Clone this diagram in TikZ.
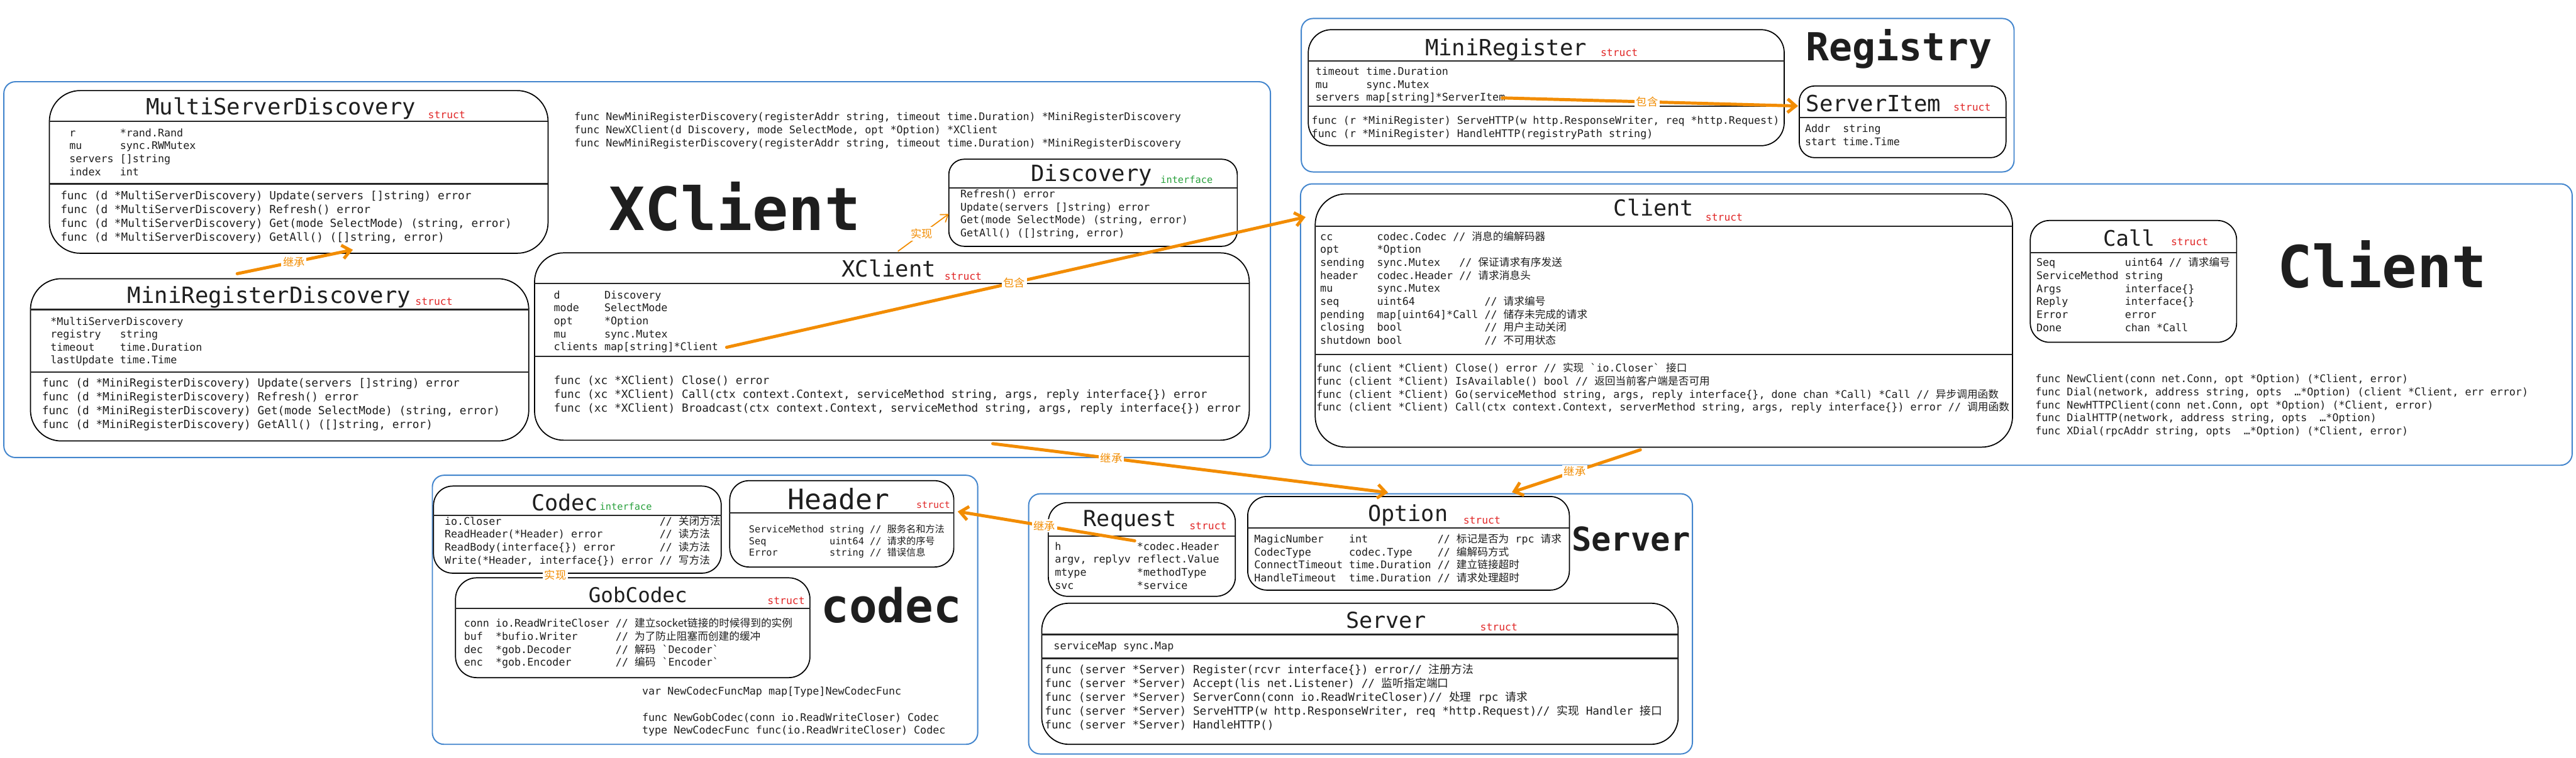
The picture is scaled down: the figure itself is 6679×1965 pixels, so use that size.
\documentclass[tikz,border=0pt]{standalone}
\usepackage{fontspec}
\setmonofont{DejaVu Sans Mono}
\newfontfamily\zhfont{Noto Sans CJK SC}
\usetikzlibrary{arrows.meta}
\definecolor{orng}{RGB}{242,140,0}
\definecolor{frameblue}{RGB}{66,133,205}
\definecolor{structred}{RGB}{225,40,40}
\definecolor{ifgreen}{RGB}{40,160,60}
\definecolor{ink}{RGB}{30,30,30}
\newcommand\zh[1]{{\zhfont#1}}
\newcommand\CL[1]{\hbox{#1}}
\frenchspacing
\tikzset{
  frame/.style={draw=frameblue, line width=0.9pt, rounded corners=0.3cm},
  umlbox/.style={draw=black, line width=0.8pt, inner sep=0pt, outer sep=0pt},
  sepline/.style={draw=black!85, line width=1pt},
  code/.style={inner sep=0pt, outer sep=0pt, anchor=base west, text=ink},
  codeA/.style={code, font={\ttfamily\fontsize{8.25pt}{10.2pt}\selectfont}},
  codeB/.style={code, font={\ttfamily\fontsize{7.74pt}{9.58pt}\selectfont}},
  codeC/.style={code, font={\ttfamily\fontsize{7.05pt}{8.68pt}\selectfont}},
  title/.style={code, font={\ttfamily\fontsize{#1}{#1}\selectfont}},
  tag/.style={code, text=structred, font={\ttfamily\fontsize{#1}{#1}\selectfont}},
  iface/.style={code, text=ifgreen, font={\ttfamily\fontsize{7.1pt}{8pt}\selectfont}},
  big/.style={code, font={\ttfamily\bfseries\fontsize{#1}{#1}\selectfont}},
  assoc/.style={draw=orng, line width=2.3pt, line cap=round, -{Straight Barb[length=6pt,width=10pt]}},
  thinarrow/.style={draw=orng, line width=0.8pt, -{Straight Barb[length=5pt,width=7pt]}},
  lbl/.style={fill=white, inner sep=1.2pt, text=orng, font={\zhfont\fontsize{8pt}{9pt}\selectfont}}
}
\newcommand\ubox[6]{\node[umlbox, rounded corners=#6, minimum width={(#4-#2)*0.01cm}, minimum height={(#5-#3)*0.01cm}] (#1) at ({(#2+#4)/2},{(#3+#5)/2}) {};}
\begin{document}
\begin{tikzpicture}[x=0.01cm,y=-0.01cm]
\fill[white] (0,0) rectangle (6679,1965);
\useasboundingbox (0,0) rectangle (6679,1965);

% ---------- frames ----------
\draw[frame] (10,212) rectangle (3294,1187);
\draw[frame] (3374,48) rectangle (5222,446);
\draw[frame] (3372,477) rectangle (6669,1207);
\draw[frame] (1121,1233) rectangle (2535,1931);
\draw[frame] (2667,1281) rectangle (4388,1956);

% ---------- XClient package ----------
\ubox{msd}{128}{235}{1421}{657}{0.8cm}
\node[title=16.5pt] (msdT) at (379,298) {MultiServerDiscovery};
\node[tag=7.6pt] (msdS) at (1110,307) {struct};
\draw[sepline] (128,315) -- (1421,315);
\node[codeB] (msdF) at (180,354) {\vtop{\CL{r~~~~~~~*rand.Rand}\CL{mu~~~~~~sync.RWMutex}\CL{servers~[]string}\CL{index~~~int}}};
\draw[sepline] (128,477) -- (1421,477);
\node[codeA] (msdM) at (157,517) {\vtop{\CL{func (d *MultiServerDiscovery) Update(servers []string) error}\CL{func (d *MultiServerDiscovery) Refresh() error}\CL{func (d *MultiServerDiscovery) Get(mode SelectMode) (string, error)}\CL{func (d *MultiServerDiscovery) GetAll() ([]string, error)}}};

\ubox{mrd}{79}{723}{1371}{1144}{0.8cm}
\node[title=16.5pt] (mrdT) at (331,786) {MiniRegisterDiscovery};
\node[tag=7.6pt] (mrdS) at (1077,792) {struct};
\draw[sepline] (79,803) -- (1371,803);
\node[codeB] (mrdF) at (131,843) {\vtop{\CL{*MultiServerDiscovery}\CL{registry~~~string}\CL{timeout~~~~time.Duration}\CL{lastUpdate time.Time}}};
\draw[sepline] (79,965) -- (1371,965);
\node[codeA] (mrdM) at (109,1003) {\vtop{\CL{func (d *MiniRegisterDiscovery) Update(servers []string) error}\CL{func (d *MiniRegisterDiscovery) Refresh() error}\CL{func (d *MiniRegisterDiscovery) Get(mode SelectMode) (string, error)}\CL{func (d *MiniRegisterDiscovery) GetAll() ([]string, error)}}};

\node[codeB] (ctors) at (1489,313) {\vtop{\CL{func NewMiniRegisterDiscovery(registerAddr string, timeout time.Duration) *MiniRegisterDiscovery}\CL{func NewXClient(d Discovery, mode SelectMode, opt *Option) *XClient}\CL{func NewMiniRegisterDiscovery(registerAddr string, timeout time.Duration) *MiniRegisterDiscovery}}};

\node[big=44pt] (xcBig) at (1579,598) {XClient};

\ubox{disc}{2460}{413}{3208}{639}{0.4cm}
\node[title=16.5pt] (discT) at (2673,470) {Discovery};
\node[iface] (discS) at (3009,476) {interface};
\draw[sepline] (2460,488) -- (3208,488);
\node[codeB] (discM) at (2490,513) {\vtop{\CL{Refresh() error}\CL{Update(servers []string) error}\CL{Get(mode SelectMode) (string, error)}\CL{GetAll() ([]string, error)}}};

\ubox{xc}{1386}{656}{3239}{1142}{0.75cm}
\node[title=16.5pt] (xcT) at (2182,719) {XClient};
\node[tag=7.6pt] (xcS) at (2449,727) {struct};
\draw[sepline] (1386,736) -- (3239,736);
\node[codeB] (xcF) at (1436,775) {\vtop{\CL{d~~~~~~~Discovery}\CL{mode~~~~SelectMode}\CL{opt~~~~~*Option}\CL{mu~~~~~~sync.Mutex}\CL{clients map[string]*Client}}};
\draw[sepline] (1386,924) -- (3239,924);
\node[codeA] (xcM) at (1436,997) {\vtop{\CL{func (xc *XClient) Close() error}\CL{func (xc *XClient) Call(ctx context.Context, serviceMethod string, args, reply interface\{\}) error}\CL{func (xc *XClient) Broadcast(ctx context.Context, serviceMethod string, args, reply interface\{\}) error}}};

% ---------- Registry ----------
\ubox{mreg}{3392}{77}{4626}{378}{0.6cm}
\node[title=16.5pt] (mregT) at (3695,145) {MiniRegister};
\node[tag=7.6pt] (mregS) at (4150,146) {struct};
\draw[sepline] (3392,158) -- (4626,158);
\node[codeB] (mregF) at (3411,195) {\vtop{\CL{timeout time.Duration}\CL{mu~~~~~~sync.Mutex}\CL{servers map[string]*ServerItem}}};
\draw[sepline] (3392,276) -- (4626,276);
\node[codeB] (mregM) at (3401,322) {\vtop{\CL{func (r *MiniRegister) ServeHTTP(w http.ResponseWriter, req *http.Request)}\CL{func (r *MiniRegister) HandleHTTP(registryPath string)}}};

\node[big=28.5pt] (regBig) at (4683,158) {Registry};

\ubox{sitem}{4665}{223}{5201}{409}{0.4cm}
\node[title=16.5pt] (sitemT) at (4683,290) {ServerItem};
\node[tag=7.6pt] (sitemS) at (5065,288) {struct};
\draw[sepline] (4665,305) -- (5201,305);
\node[codeB] (sitemF) at (4680,343) {\vtop{\CL{Addr~~string}\CL{start time.Time}}};

% ---------- Client ----------
\ubox{cli}{3410}{503}{5218}{1160}{0.8cm}
\node[title=16.3pt] (cliT) at (4184,560) {Client};
\node[tag=7.6pt] (cliS) at (4422,573) {struct};
\draw[sepline] (3410,587) -- (5218,587);
\node[codeB] (cliF) at (3423,623) {\vtop{%
\CL{cc~~~~~~~codec.Codec // \zh{消息的编解码器}}%
\CL{opt~~~~~~*Option}%
\CL{sending~~sync.Mutex~~~// \zh{保证请求有序发送}}%
\CL{header~~~codec.Header // \zh{请求消息头}}%
\CL{mu~~~~~~~sync.Mutex}%
\CL{seq~~~~~~uint64~~~~~~~~~~~// \zh{请求编号}}%
\CL{pending~~map[uint64]*Call // \zh{储存未完成的请求}}%
\CL{closing~~bool~~~~~~~~~~~~~// \zh{用户主动关闭}}%
\CL{shutdown bool~~~~~~~~~~~~~// \zh{不可用状态}}}};
\draw[sepline] (3410,920) -- (5218,920);
\node[codeB] (cliM) at (3413,965) {\vtop{%
\CL{func (client *Client) Close() error // \zh{实现} `io.Closer` \zh{接口}}%
\CL{func (client *Client) IsAvailable() bool // \zh{返回当前客户端是否可用}}%
\CL{func (client *Client) Go(serviceMethod string, args, reply interface\{\}, done chan *Call) *Call // \zh{异步调用函数}}%
\CL{func (client *Client) Call(ctx context.Context, serverMethod string, args, reply interface\{\}) error // \zh{调用函数}}}};

\ubox{call}{5264}{572}{5799}{888}{0.5cm}
\node[title=15.8pt] (callT) at (5453,639) {Call};
\node[tag=7.6pt] (callS) at (5629,637) {struct};
\draw[sepline] (5264,655) -- (5799,655);
\node[codeB] (callF) at (5280,691) {\vtop{%
\CL{Seq~~~~~~~~~~~uint64 // \zh{请求编号}}%
\CL{ServiceMethod string}%
\CL{Args~~~~~~~~~~interface\{\}}%
\CL{Reply~~~~~~~~~interface\{\}}%
\CL{Error~~~~~~~~~error}%
\CL{Done~~~~~~~~~~chan *Call}}};

\node[big=42.7pt] (cliBig) at (5905,746) {Client};

\node[codeB] (cliFn) at (5277,993) {\vtop{%
\CL{func NewClient(conn net.Conn, opt *Option) (*Client, error)}%
\CL{func Dial(network, address string, opts~~…*Option) (client *Client, err error)}%
\CL{func NewHTTPClient(conn net.Conn, opt *Option) (*Client, error)}%
\CL{func DialHTTP(network, address string, opts~~…*Option)}%
\CL{func XDial(rpcAddr string, opts~~…*Option) (*Client, error)}}};

% ---------- codec ----------
\ubox{codecI}{1124}{1261}{1870}{1487}{0.5cm}
\node[title=16.3pt] (codecT) at (1378,1325) {Codec};
\node[iface] (codecS) at (1555,1323) {interface};
\draw[sepline] (1124,1337) -- (1870,1337);
\node[codeB] (codecM) at (1153,1362) {\vtop{%
\CL{io.Closer~~~~~~~~~~~~~~~~~~~~~~~~~// \zh{关闭方法}}%
\CL{ReadHeader(*Header) error~~~~~~~~~// \zh{读方法}}%
\CL{ReadBody(interface\{\}) error~~~~~~~// \zh{读方法}}%
\CL{Write(*Header, interface\{\}) error // \zh{写方法}}}};

\ubox{hdr}{1892}{1247}{2473}{1471}{0.5cm}
\node[title=20.7pt] (hdrT) at (2043,1322) {Header};
\node[tag=6.9pt] (hdrS) at (2376,1318) {struct};
\draw[sepline] (1892,1330) -- (2473,1330);
\node[codeC] (hdrF) at (1942,1382) {\vtop{%
\CL{ServiceMethod string // \zh{服务名和方法}}%
\CL{Seq~~~~~~~~~~~uint64 // \zh{请求的序号}}%
\CL{Error~~~~~~~~~string // \zh{错误信息}}}};

\ubox{gob}{1181}{1499}{2100}{1758}{0.55cm}
\node[title=15.1pt] (gobT) at (1526,1563) {GobCodec};
\node[tag=7.6pt] (gobS) at (1990,1568) {struct};
\draw[sepline] (1181,1579) -- (2100,1579);
\node[codeB] (gobF) at (1203,1627) {\vtop{%
\CL{conn io.ReadWriteCloser // \zh{建立socket链接的时候得到的实例}}%
\CL{buf~~*bufio.Writer~~~~~~// \zh{为了防止阻塞而创建的缓冲}}%
\CL{dec~~*gob.Decoder~~~~~~~// \zh{解码} `Decoder`}%
\CL{enc~~*gob.Encoder~~~~~~~// \zh{编码} `Encoder`}}};

\node[big=34.4pt] (codecBig) at (2129,1615) {codec};

\node[codeB] (codecFn) at (1665,1803) {\vtop{%
\CL{var NewCodecFuncMap map[Type]NewCodecFunc}%
\CL{}%
\CL{func NewGobCodec(conn io.ReadWriteCloser) Codec}%
\CL{type NewCodecFunc func(io.ReadWriteCloser) Codec}}};

\node[lbl] (implLbl) at (1440,1492) {实现};

% ---------- Server ----------
\ubox{req}{2718}{1304}{3203}{1547}{0.5cm}
\node[title=16.3pt] (reqT) at (2809,1365) {Request};
\node[tag=7.6pt] (reqS) at (3084,1374) {struct};
\draw[sepline] (2718,1391) -- (3203,1391);
\node[codeB] (reqF) at (2735,1427) {\vtop{%
\CL{h~~~~~~~~~~~~*codec.Header}%
\CL{argv, replyv reflect.Value}%
\CL{mtype~~~~~~~~*methodType}%
\CL{svc~~~~~~~~~~*service}}};

\ubox{opt}{3235}{1288}{4069}{1531}{0.5cm}
\node[title=16.3pt] (optT) at (3547,1352) {Option};
\node[tag=7.6pt] (optS) at (3794,1359) {struct};
\draw[sepline] (3235,1370) -- (4069,1370);
\node[codeB] (optF) at (3252,1408) {\vtop{%
\CL{MagicNumber~~~~int~~~~~~~~~~~// \zh{标记是否为} rpc \zh{请求}}%
\CL{CodecType~~~~~~codec.Type~~~~// \zh{编解码方式}}%
\CL{ConnectTimeout time.Duration // \zh{建立链接超时}}%
\CL{HandleTimeout~~time.Duration // \zh{请求处理超时}}}};

\node[big=24.2pt] (srvBig) at (4075,1430) {Server};

\ubox{srv}{2701}{1565}{4351}{1931}{0.7cm}
\node[title=16.3pt] (srvT) at (3490,1630) {Server};
\node[tag=7.6pt] (srvS) at (3838,1637) {struct};
\draw[sepline] (2701,1646) -- (4351,1646);
\node[codeB] (srvF) at (2732,1685) {serviceMap sync.Map};
\draw[sepline] (2701,1708) -- (4351,1708);
\node[codeA] (srvM) at (2709,1747) {\vtop{%
\CL{func (server *Server) Register(rcvr interface\{\}) error// \zh{注册方法}}%
\CL{func (server *Server) Accept(lis net.Listener) // \zh{监听指定端口}}%
\CL{func (server *Server) ServerConn(conn io.ReadWriteCloser)// \zh{处理} rpc \zh{请求}}%
\CL{func (server *Server) ServeHTTP(w http.ResponseWriter, req *http.Request)// \zh{实现} Handler \zh{接口}}%
\CL{func (server *Server) HandleHTTP()}}};

% ---------- connectors ----------
\coordinate (a1s) at (615,710);   \coordinate (a1e) at (915,648);
\coordinate (a2s) at (1884,901);  \coordinate (a2e) at (3385,563);
\coordinate (a3s) at (2328,652);  \coordinate (a3e) at (2460,555);
\coordinate (a4s) at (2574,1151); \coordinate (a4e) at (3599,1278);
\coordinate (a5s) at (4253,1167); \coordinate (a5e) at (3920,1277);
\coordinate (a6s) at (2942,1403); \coordinate (a6e) at (2483,1327);
\coordinate (a7s) at (3895,254);  \coordinate (a7e) at (4662,275);

\draw[assoc] (a1s) -- node[lbl, pos=0.49] (l1) {继承} (a1e);
\draw[assoc] (a2s) -- node[lbl, pos=0.497] (l2) {包含} (a2e);
\draw[thinarrow] (a3s) -- node[lbl, pos=0.47] (l3) {实现} (a3e);
\draw[assoc] (a4s) -- node[lbl, pos=0.3] (l4) {继承} (a4e);
\draw[assoc] (a5s) -- node[lbl, pos=0.51] (l5) {继承} (a5e);
\draw[assoc] (a6s) -- node[lbl, pos=0.51] (l6) {继承} (a6e);
\draw[assoc] (a7s) -- node[lbl, pos=0.49] (l7) {包含} (a7e);
\end{tikzpicture}
\end{document}
